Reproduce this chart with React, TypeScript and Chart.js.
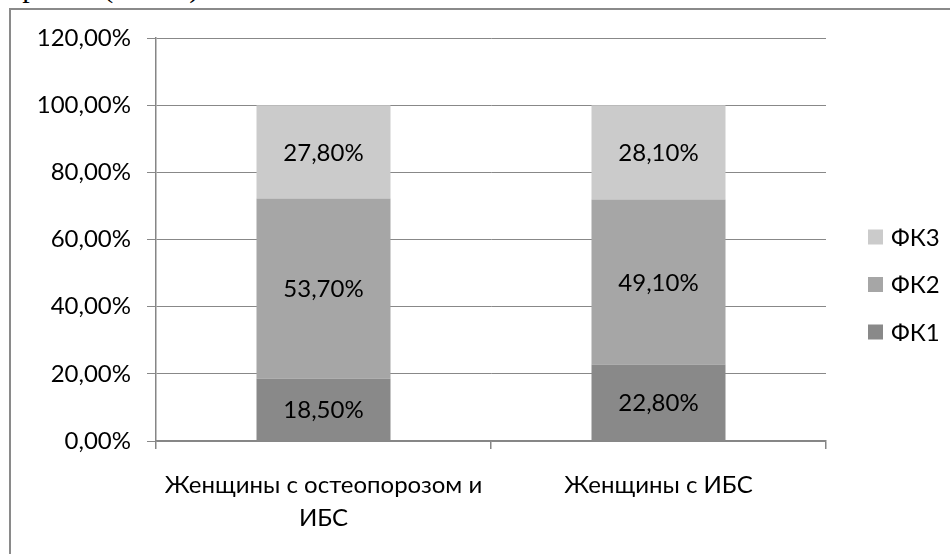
import React, { useEffect, useRef } from "react";
import { Chart, registerables } from "chart.js";

Chart.register(...registerables);

const categories: (string | string[])[] = [["Женщины с остеопорозом и", "ИБС"], "Женщины с ИБС"];
const seriesNames = ["ФК1", "ФК2", "ФК3"];
const fk1 = [18.5, 22.8];
const fk2 = [53.7, 49.1];
const fk3 = [27.8, 28.1];
const seriesColors = ["#898989", "#a6a6a6", "#cbcbcb"];
const yTicks = [0, 20, 40, 60, 80, 100, 120];

const FONT = "Lato";
const FS = 24;
const fmt = (v: number) => v.toFixed(2).replace(".", ",") + "%";

const labelsPlugin = {
  id: "barLabels",
  afterDatasetsDraw(chart: any) {
    const ctx = chart.ctx;
    ctx.save();
    ctx.font = `${FS}px ${FONT}`;
    ctx.fillStyle = "#000";
    ctx.textAlign = "center";
    ctx.textBaseline = "middle";
    chart.data.datasets.forEach((ds: any, di: number) => {
      const meta = chart.getDatasetMeta(di);
      meta.data.forEach((bar: any, i: number) => {
        const v = ds.data[i];
        ctx.fillText(fmt(v), bar.x, (bar.y + bar.base) / 2 + 1);
      });
    });
    ctx.restore();
  },
};

const legendPlugin = {
  id: "customLegend",
  afterDraw(chart: any) {
    const ctx = chart.ctx;
    const x = chart.chartArea.right + 42;
    const y0 = 237;
    const step = 47.5;
    ctx.save();
    ctx.font = `${FS}px ${FONT}`;
    ctx.textAlign = "left";
    ctx.textBaseline = "middle";
    const ds = chart.data.datasets;
    for (let k = 0; k < ds.length; k++) {
      const d = ds[ds.length - 1 - k];
      const cy = y0 + k * step;
      ctx.fillStyle = d.backgroundColor;
      ctx.fillRect(x, cy - 7.5, 15, 15);
      ctx.fillStyle = "#000";
      ctx.fillText(d.label, x + 23, cy + 1);
    }
    ctx.restore();
  },
};

export default function App() {
  const ref = useRef<HTMLCanvasElement>(null);
  useEffect(() => {
    if (!ref.current) return;
    const chart = new Chart(ref.current, {
      type: "bar",
      data: {
        labels: categories,
        datasets: [fk1, fk2, fk3].map((d, i) => ({
          label: seriesNames[i],
          data: d,
          backgroundColor: seriesColors[i],
          borderWidth: 0,
          categoryPercentage: 1,
          barPercentage: 0.4,
        })),
      },
      options: {
        responsive: false,
        animation: false,
        events: [],
        layout: { padding: { top: 38, right: 124, left: 0, bottom: 0 } },
        plugins: { legend: { display: false }, tooltip: { enabled: false } },
        scales: {
          x: {
            stacked: true,
            offset: true,
            grid: {
              offset: true,
              drawOnChartArea: false,
              drawTicks: true,
              tickLength: 8,
              color: "#868686",
              lineWidth: 1.5,
            },
            border: { display: true, color: "#868686", width: 1.5 },
            ticks: {
              color: "#000",
              padding: 20,
              maxRotation: 0,
              autoSkip: false,
              font: { family: FONT, size: FS, lineHeight: 1.38 },
            },
            afterFit(scale: any) {
              scale.height = 113;
            },
          },
          y: {
            stacked: true,
            min: 0,
            max: 120,
            afterBuildTicks(scale: any) {
              scale.ticks = yTicks.map((v) => ({ value: v }));
            },
            grid: {
              color: "#888888",
              lineWidth: 1,
              drawTicks: true,
              tickLength: 9,
            },
            border: { display: true, color: "#868686", width: 1.5 },
            ticks: {
              color: "#000",
              padding: 16,
              font: { family: FONT, size: FS },
              callback: (v: any) => fmt(Number(v)),
            },
            afterFit(scale: any) {
              scale.width = 156;
            },
          },
        },
      },
      plugins: [labelsPlugin, legendPlugin],
    });
    return () => chart.destroy();
  }, []);

  return (
    <div style={{ position: "fixed", left: 0, top: 0, width: 950, height: 554, overflow: "hidden", background: "#fff" }}>
      <div
        style={{
          position: "absolute",
          left: -8,
          top: -30,
          fontFamily: "'Liberation Serif', serif",
          fontSize: 30,
          whiteSpace: "nowrap",
          color: "#000",
        }}
      >
        образом (Рис. 4).
      </div>
      <div
        style={{
          position: "absolute",
          left: 9,
          top: 8,
          width: 1000,
          height: 700,
          border: "2px solid #8a8a8a",
          boxSizing: "border-box",
        }}
      />
      <canvas ref={ref} width={950} height={554} style={{ position: "absolute", left: 0, top: 0 }} />
    </div>
  );
}
